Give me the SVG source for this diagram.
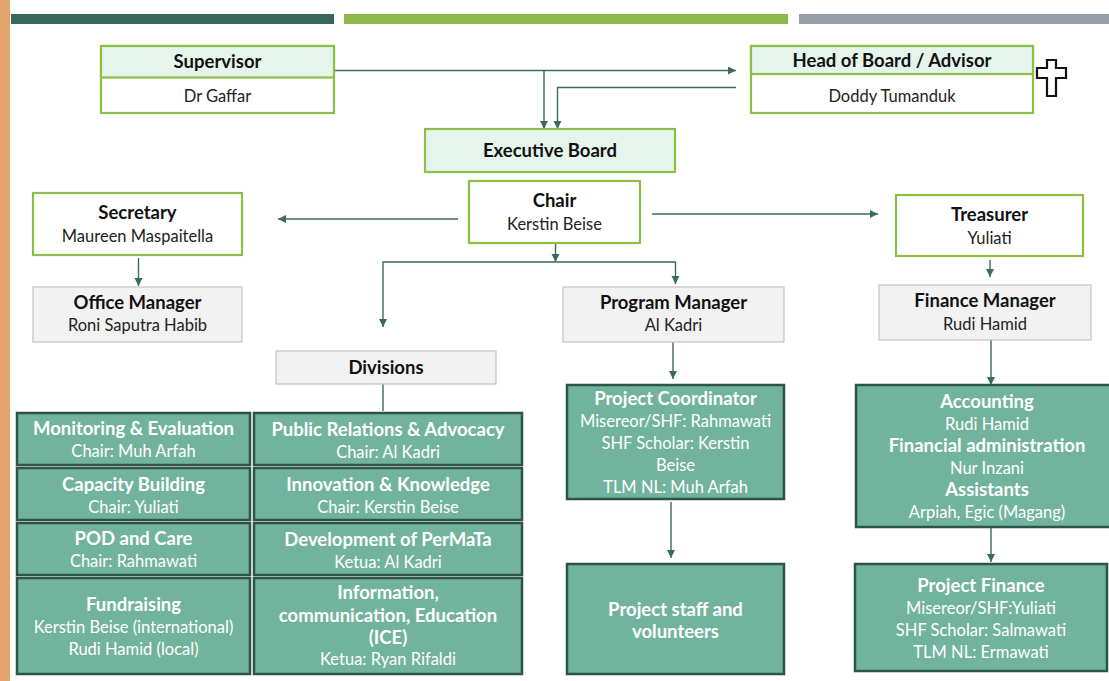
<svg xmlns="http://www.w3.org/2000/svg" width="1109" height="681" viewBox="0 0 1109 681">
<defs>
<marker id="ah" markerUnits="userSpaceOnUse" markerWidth="9" markerHeight="9" refX="8" refY="4" orient="auto"><path d="M0,0 L8,4 L0,8 Z" fill="#3B6B5C"/></marker>
<style>
text{font-family:Lato,"Open Sans","Liberation Sans",sans-serif;text-anchor:middle;}
.b{font-weight:bold;font-size:18.5px;fill:#111;}
.r{font-size:16.5px;fill:#222;}
.tb{font-weight:bold;font-size:18.5px;fill:#fff;}
.tr{font-size:16.5px;fill:#fff;}
.hd{fill:#E6F5EB;stroke:#8DBF47;stroke-width:2.2;}
.wb{fill:#fff;stroke:#8DBF47;stroke-width:2.2;}
.gy{fill:#F2F2F2;stroke:#C4C4C4;stroke-width:1.2;}
.tl{fill:#72B39D;stroke:#2E5446;stroke-width:2.5;}
.cn path{fill:none;stroke:#3B6B5C;stroke-width:1.4;}
.ar{marker-end:url(#ah);}
</style>
</defs>
<rect x="0" y="0" width="1109" height="681" fill="#fff"/>
<rect x="0" y="0" width="10" height="681" fill="#E3A56C"/>
<rect x="11" y="14" width="323" height="10" fill="#35685A"/>
<rect x="344" y="14" width="444" height="10" fill="#8DB84A"/>
<rect x="799" y="14" width="310" height="10" fill="#979EA8"/>

<g class="cn">
<path class="ar" d="M334,70.5 H736"/>
<path class="ar" d="M544,70.5 V129"/>
<path class="ar" d="M736,87.5 H557.5 V129"/>
<path class="ar" d="M458,219 H278"/>
<path class="ar" d="M652,214 H878"/>
<path class="ar" d="M555.5,243 V262"/>
<path class="ar" d="M555.5,262 H383 V327"/>
<path class="ar" d="M555.5,262 H675.5 V284"/>
<path class="ar" d="M138.5,258 V286"/>
<path d="M383,384 V411"/>
<path class="ar" d="M990,260 V277"/>
<path class="ar" d="M673,342 V379"/>
<path class="ar" d="M991,340 V385"/>
<path class="ar" d="M671,502 V558"/>
<path class="ar" d="M991,527 V562"/>
</g>

<g id="supervisor">
<rect class="wb" x="101" y="46" width="233" height="67"/>
<rect class="hd" x="101" y="46" width="233" height="31.5"/>
<text class="b" x="217.5" y="67.5">Supervisor</text>
<text class="r" x="217.5" y="101.5">Dr Gaffar</text>
</g>
<g id="head">
<rect class="wb" x="751" y="46" width="282" height="67"/>
<rect class="hd" x="751" y="46" width="282" height="28"/>
<text class="b" x="892" y="67">Head of Board / Advisor</text>
<text class="r" x="892" y="101.5">Doddy Tumanduk</text>
<path d="M1047,60 H1056 V68 H1066 V78 H1056 V96 H1047 V78 H1037 V68 H1047 Z" fill="#fff" stroke="#111" stroke-width="2.2"/>
</g>
<g id="executive">
<rect class="hd" x="425" y="129" width="250" height="43"/>
<text class="b" x="550" y="157">Executive Board</text>
</g>
<g id="chair">
<rect class="wb" x="469" y="181" width="171" height="62"/>
<text class="b" x="554.5" y="206.5">Chair</text>
<text class="r" x="554.5" y="230">Kerstin Beise</text>
</g>
<g id="secretary">
<rect class="wb" x="33" y="193" width="209" height="62"/>
<text class="b" x="137.5" y="218.5">Secretary</text>
<text class="r" x="137.5" y="242">Maureen Maspaitella</text>
</g>
<g id="treasurer">
<rect class="wb" x="896" y="195" width="187" height="61"/>
<text class="b" x="989.5" y="220.5">Treasurer</text>
<text class="r" x="989.5" y="244">Yuliati</text>
</g>
<g id="office">
<rect class="gy" x="33" y="287" width="209" height="55"/>
<text class="b" x="137.5" y="308.5">Office Manager</text>
<text class="r" x="137.5" y="331">Roni Saputra Habib</text>
</g>
<g id="program">
<rect class="gy" x="563" y="287" width="221" height="55"/>
<text class="b" x="673.5" y="308.5">Program Manager</text>
<text class="r" x="673.5" y="331">Al Kadri</text>
</g>
<g id="finance">
<rect class="gy" x="879" y="285" width="212" height="55"/>
<text class="b" x="985" y="307">Finance Manager</text>
<text class="r" x="985" y="330">Rudi Hamid</text>
</g>
<g id="divisions">
<rect class="gy" x="276" y="351" width="220" height="33"/>
<text class="b" x="386" y="373.5">Divisions</text>
</g>

<g id="monitoring">
<rect class="tl" x="17" y="413" width="233" height="52"/>
<text class="tb" x="133.5" y="434.5">Monitoring &amp; Evaluation</text>
<text class="tr" x="133.5" y="457">Chair:  Muh Arfah</text>
</g>
<g id="public-relations">
<rect class="tl" x="254" y="413" width="268" height="52"/>
<text class="tb" x="388" y="435.5">Public Relations &amp; Advocacy</text>
<text class="tr" x="388" y="458">Chair: Al Kadri</text>
</g>
<g id="capacity">
<rect class="tl" x="17" y="468" width="233" height="52"/>
<text class="tb" x="133.5" y="490.5">Capacity Building</text>
<text class="tr" x="133.5" y="513">Chair: Yuliati</text>
</g>
<g id="innovation">
<rect class="tl" x="254" y="468" width="268" height="52"/>
<text class="tb" x="388" y="490.5">Innovation &amp; Knowledge</text>
<text class="tr" x="388" y="513">Chair:  Kerstin Beise</text>
</g>
<g id="pod">
<rect class="tl" x="17" y="523" width="233" height="52"/>
<text class="tb" x="133.5" y="544.5">POD and Care</text>
<text class="tr" x="133.5" y="567">Chair:  Rahmawati</text>
</g>
<g id="development">
<rect class="tl" x="254" y="523" width="268" height="52"/>
<text class="tb" x="388" y="545.5">Development of PerMaTa</text>
<text class="tr" x="388" y="568">Ketua:  Al Kadri</text>
</g>
<g id="fundraising">
<rect class="tl" x="17" y="578" width="233" height="96"/>
<text class="tb" x="133.5" y="610.5">Fundraising</text>
<text class="tr" x="133.5" y="633">Kerstin Beise (international)</text>
<text class="tr" x="133.5" y="655">Rudi Hamid (local)</text>
</g>
<g id="ice">
<rect class="tl" x="254" y="578" width="268" height="96"/>
<text class="tb" x="388" y="598.5">Information,</text>
<text class="tb" x="388" y="621.5">communication, Education</text>
<text class="tb" x="388" y="643.5">(ICE)</text>
<text class="tr" x="388" y="665">Ketua:  Ryan Rifaldi</text>
</g>

<g id="coordinator">
<rect class="tl" x="567" y="385" width="217" height="114"/>
<text class="tb" x="675.5" y="404.5">Project Coordinator</text>
<text class="tr" x="675.5" y="427">Misereor/SHF: Rahmawati</text>
<text class="tr" x="675.5" y="449">SHF Scholar:  Kerstin</text>
<text class="tr" x="675.5" y="471">Beise</text>
<text class="tr" x="675.5" y="493">TLM NL: Muh Arfah</text>
</g>
<g id="staff">
<rect class="tl" x="567" y="564" width="217" height="110"/>
<text class="tb" x="675.5" y="615.5">Project staff and</text>
<text class="tb" x="675.5" y="637.5">volunteers</text>
</g>
<g id="accounting">
<rect class="tl" x="856" y="385" width="262" height="142"/>
<text class="tb" x="987" y="407.5">Accounting</text>
<text class="tr" x="987" y="429.5">Rudi Hamid</text>
<text class="tb" x="987" y="451.5">Financial administration</text>
<text class="tr" x="987" y="473.5">Nur Inzani</text>
<text class="tb" x="987" y="495.5">Assistants</text>
<text class="tr" x="987" y="517.5">Arpiah, Egic (Magang)</text>
</g>
<g id="project-finance">
<rect class="tl" x="855" y="564" width="252" height="107"/>
<text class="tb" x="981" y="591.5">Project Finance</text>
<text class="tr" x="981" y="614">Misereor/SHF:Yuliati</text>
<text class="tr" x="981" y="636">SHF Scholar:  Salmawati</text>
<text class="tr" x="981" y="657.5">TLM NL: Ermawati</text>
</g>
</svg>
